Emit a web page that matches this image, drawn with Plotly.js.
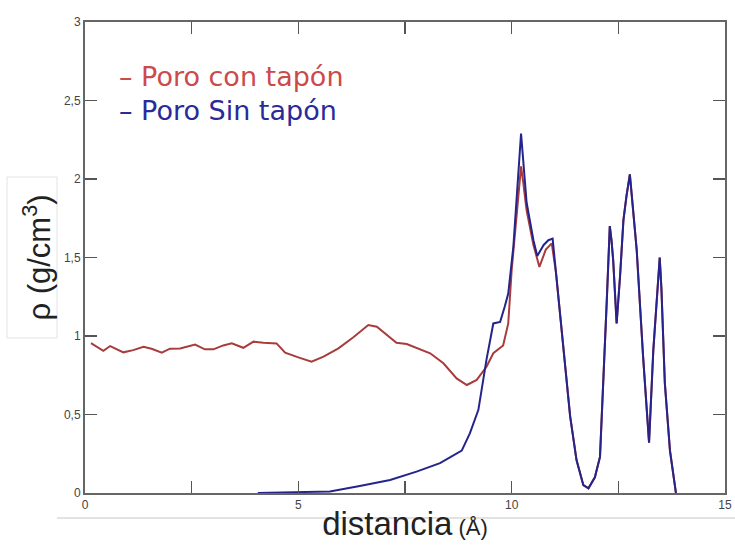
<!DOCTYPE html>
<html>
<head>
<meta charset="utf-8">
<script src="https://cdn.plot.ly/plotly-3.0.1.min.js"></script>
<style>html,body{margin:0;padding:0;background:#fff;}#chart{width:735px;height:546px;}</style>
</head>
<body>
<div id="chart"></div>
<script>
// Poro con tapón (red)
const xCon = [0.14,0.43,0.59,0.90,1.13,1.37,1.56,1.80,1.99,2.23,2.58,2.81,3.01,3.24,3.44,3.71,3.95,4.18,4.49,4.69,5.00,5.31,5.59,5.94,6.29,6.64,6.84,7.30,7.54,8.09,8.40,8.71,8.95,9.18,9.41,9.57,9.80,9.92,10.00,10.12,10.22,10.27,10.35,10.51,10.65,10.80,10.94,11.04,11.13,11.21,11.37,11.52,11.68,11.80,11.95,12.07,12.15,12.23,12.30,12.34,12.38,12.46,12.54,12.62,12.69,12.77,12.81,12.93,13.08,13.22,13.32,13.40,13.47,13.51,13.59,13.71,13.85];
const yCon = [0.955,0.906,0.936,0.896,0.910,0.932,0.919,0.894,0.919,0.920,0.945,0.915,0.915,0.940,0.953,0.925,0.964,0.957,0.953,0.894,0.864,0.837,0.868,0.921,0.992,1.070,1.059,0.957,0.949,0.890,0.826,0.730,0.688,0.720,0.804,0.890,0.940,1.080,1.420,1.780,2.080,1.980,1.800,1.580,1.440,1.550,1.590,1.400,1.140,0.910,0.490,0.210,0.050,0.030,0.100,0.230,0.700,1.230,1.700,1.610,1.480,1.080,1.380,1.740,1.890,2.030,1.910,1.550,0.870,0.320,0.910,1.250,1.500,1.300,0.700,0.270,0.000];
// Poro Sin tapón (blue)
const xSin = [4.05,5.00,5.74,6.44,7.15,7.77,8.32,8.83,9.02,9.22,9.33,9.41,9.57,9.73,9.84,9.92,10.04,10.13,10.22,10.27,10.35,10.51,10.60,10.75,10.86,10.96,11.04,11.13,11.21,11.37,11.52,11.68,11.80,11.95,12.07,12.15,12.23,12.30,12.34,12.38,12.46,12.54,12.62,12.69,12.77,12.81,12.93,13.08,13.22,13.32,13.40,13.47,13.51,13.59,13.71,13.85];
const ySin = [0.000,0.003,0.010,0.045,0.083,0.136,0.190,0.270,0.380,0.530,0.720,0.850,1.080,1.090,1.190,1.270,1.570,1.950,2.290,2.120,1.850,1.610,1.510,1.580,1.610,1.620,1.400,1.140,0.910,0.490,0.210,0.050,0.030,0.100,0.230,0.700,1.230,1.700,1.610,1.480,1.080,1.380,1.740,1.890,2.030,1.910,1.550,0.870,0.320,0.910,1.250,1.500,1.300,0.700,0.270,0.000];

const xTickVals = [0,5,10,15];
const xTickText = ['0','5','10','15'];
const yTickVals = [0,0.5,1,1.5,2,2.5,3];
const yTickText = ['0','0,5','1','1,5','2','2,5','3'];
const seriesNames = ['Poro con tapón','Poro Sin tapón'];
const lineColors = ['#a83c3c','#24248c'];
const legendColors = ['#cc4a4a','#2a2a98'];

const traces = [
  {x:xCon, y:yCon, mode:'lines', name:seriesNames[0], line:{color:lineColors[0], width:2}},
  {x:xSin, y:ySin, mode:'lines', name:seriesNames[1], line:{color:lineColors[1], width:2}}
];

const layout = {
  width:735, height:546,
  margin:{l:85, r:10, t:22, b:53},
  paper_bgcolor:'#fff', plot_bgcolor:'#fff',
  showlegend:false,
  font:{family:'Liberation Sans, Arial, sans-serif', color:'#444'},
  xaxis:{
    range:[0,15], tickmode:'array', tickvals:xTickVals, ticktext:xTickText,
    ticks:'inside', ticklen:12, tickwidth:1.5, tickcolor:'#555',
    minor:{dtick:2.5, tick0:0, ticks:'inside', ticklen:12, tickwidth:1.5, tickcolor:'#555', showgrid:false},
    showline:true, linecolor:'#666', linewidth:2, mirror:'allticks',
    showgrid:false, zeroline:false,
    tickfont:{size:12, color:'#444'},
    title:{text:'distancia<span style="font-size:22px"> (Å)</span>', font:{size:33, color:'#222', family:'Liberation Sans, Arial, sans-serif'}, standoff:0}
  },
  yaxis:{
    range:[0,3], tickmode:'array', tickvals:yTickVals, ticktext:yTickText,
    ticks:'inside', ticklen:12, tickwidth:1.5, tickcolor:'#555',
    showline:true, linecolor:'#666', linewidth:2, mirror:'allticks',
    showgrid:false, zeroline:false,
    tickfont:{size:12, color:'#444'},
    title:{text:'ρ (g/cm<sup>3</sup>)', font:{size:31, color:'#222', family:'Liberation Sans, Arial, sans-serif'}, standoff:4}
  },
  annotations:[
    {xref:'paper', yref:'paper', x:(117-85)/640, y:(493-77)/471, xanchor:'left', yanchor:'middle', showarrow:false,
     text:'– '+seriesNames[0], font:{family:'DejaVu Sans, sans-serif', size:27, color:legendColors[0]}},
    {xref:'paper', yref:'paper', x:(117-85)/640, y:(493-111)/471, xanchor:'left', yanchor:'middle', showarrow:false,
     text:'– '+seriesNames[1], font:{family:'DejaVu Sans, sans-serif', size:27, color:legendColors[1]}}
  ],
  shapes:[
    {type:'rect', xref:'paper', yref:'paper', x0:(7-85)/640, x1:(57-85)/640, y0:(493-338)/471, y1:(493-177)/471, line:{color:'#e2e2e2', width:1}, layer:'below'},
    {type:'line', xref:'paper', yref:'paper', x0:(57-85)/640, x1:(735-85)/640, y0:(493-518)/471, y1:(493-518)/471, line:{color:'#d8d8d8', width:1.5}, layer:'below'}
  ]
};

Plotly.newPlot('chart', traces, layout, {displayModeBar:false, staticPlot:true});
</script>
</body>
</html>
